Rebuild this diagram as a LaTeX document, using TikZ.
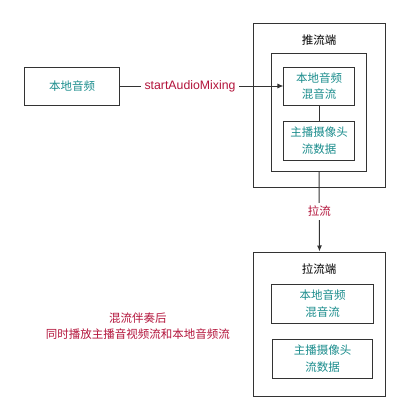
\documentclass[tikz,border=0pt]{standalone}
\usepackage{fontspec}
\setmainfont{Noto Sans CJK SC}
\newfontfamily\latinfont{Liberation Sans}
\usepackage{tikz}
\usetikzlibrary{positioning, shapes.geometric, arrows.meta}

\definecolor{teal}{HTML}{1A8C8C}
\definecolor{crimson}{HTML}{B3143B}
\definecolor{edge}{HTML}{333333}

\begin{document}
\begin{tikzpicture}[x=1bp, y=-1bp, >={Latex[length=6bp,width=5bp]}, font=\fontsize{11.5bp}{16.5bp}\selectfont]

% Define block styles
\tikzstyle{frame} = [draw=edge, line width=1bp, rectangle, inner sep=0pt]
\tikzstyle{block} = [frame, text=teal, align=center, minimum height=38bp]
\tikzstyle{title} = [text=black]
\tikzstyle{note} = [text=crimson, align=center]

\useasboundingbox (0,0) rectangle (418,416);

% Sender side
\node [frame, minimum width=131bp, minimum height=164bp] (push) at (319.5,105) {};
\node [title] (pushtitle) at (319,40) {推流端};
\node [frame, minimum width=94bp, minimum height=118bp] (mixer) at (319,112) {};
\node [block, minimum width=70bp] (mixaudio) at (319,86) {本地音频\\混音流};
\node [block, minimum width=70bp, minimum height=39bp] (camera) at (319,140.5) {主播摄像头\\流数据};

% Local audio source
\node [block, minimum width=94bp] (local) at (72,86) {本地音频};

% Receiver side
\node [frame, minimum width=131bp, minimum height=144bp] (pull) at (319.5,324) {};
\node [title] (pulltitle) at (319,269) {拉流端};
\node [block, minimum width=101bp, minimum height=39bp] (playaudio) at (322.5,303.5) {本地音频\\混音流};
\node [block, minimum width=99bp, minimum height=39bp] (playcamera) at (322.5,358.5) {主播摄像头\\流数据};

% Note
\node [note] (result) at (138,326) {混流伴奏后\\同时播放主播音视频流和本地音频流};

% Connections
\draw [->, edge, line width=1bp] (local) -- node[pos=0.43, fill=white, text=crimson, inner sep=4pt, font=\latinfont\fontsize{12.3bp}{15bp}\selectfont] {startAudioMixing} (mixaudio);
\draw [edge, line width=1bp] (mixaudio) -- (camera);
\draw [->, edge, line width=1bp] (mixer.south) -- node[pos=0.5, fill=white, text=crimson, inner sep=3pt] {拉流} (pull.north);

\end{tikzpicture}
\end{document}
